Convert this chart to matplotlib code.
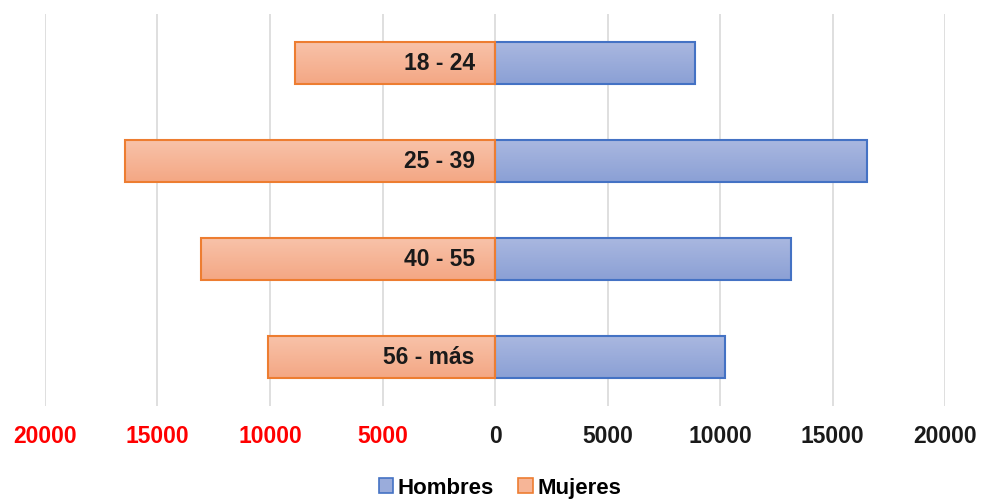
import numpy as np
import matplotlib
matplotlib.use("Agg")
import matplotlib.pyplot as plt
from matplotlib.patches import Patch
from matplotlib.colors import LinearSegmentedColormap
from matplotlib.ticker import FuncFormatter

plt.rcParams['font.family'] = ['Liberation Sans', 'DejaVu Sans']

# Data
grupos = ['18 - 24', '25 - 39', '40 - 55', '56 - más']
hombres = [8900, 16550, 13150, 10200]
mujeres = [8900, 16450, 13050, 10100]
ticks = [-20000, -15000, -10000, -5000, 0, 5000, 10000, 15000, 20000]

# Styles
azul_top, azul_bot, azul_edge = '#AAB8E0', '#8BA0D5', '#4472C4'
nar_top, nar_bot, nar_edge = '#F8C3AA', '#F4A784', '#ED7D31'
alto = 0.43

fig = plt.figure(figsize=(9.83, 5.02), dpi=100)
ax = fig.add_axes([45 / 983, 1 - 407 / 502, 900 / 983, 392 / 502])

y = np.arange(len(grupos))


def barras_gradiente(ax, x0, ancho, y, top, bot, edge):
    cmap = LinearSegmentedColormap.from_list('g', [top, bot])
    grad = np.linspace(0, 1, 64).reshape(-1, 1)
    bars = ax.barh(y, ancho, left=x0, height=alto, facecolor='none',
                   edgecolor=edge, linewidth=1.5, zorder=3)
    for b in bars:
        x, yy = b.get_x(), b.get_y()
        w, h = b.get_width(), b.get_height()
        im = ax.imshow(grad, cmap=cmap, aspect='auto', zorder=2,
                       extent=[x, x + w, yy + h, yy], interpolation='bilinear')
        im.set_clip_path(b)
    return bars


barras_gradiente(ax, 0, hombres, y, azul_top, azul_bot, azul_edge)
barras_gradiente(ax, [-m for m in mujeres], mujeres, y, nar_top, nar_bot, nar_edge)

for yi, g in zip(y, grupos):
    ax.text(-900, yi, g, ha='right', va='center', fontsize=16.5,
            fontweight='bold', color='#1a1a1a', zorder=4)

ax.set_xlim(-20000, 20000)
ax.set_ylim(len(grupos) - 0.5, -0.5)
ax.set_yticks([])
ax.set_xticks(ticks)
ax.xaxis.set_major_formatter(FuncFormatter(lambda v, p: f'{abs(int(v))}'))
ax.tick_params(axis='x', length=0, pad=13, labelsize=16.5)
for lab, t in zip(ax.get_xticklabels(), ticks):
    lab.set_fontweight('bold')
    lab.set_color('#FF0000' if t < 0 else '#1a1a1a')

ax.grid(axis='x', color='#D9D9D9', linewidth=1.2, zorder=0)
ax.set_axisbelow(True)
for s in ax.spines.values():
    s.set_visible(False)

handles = [Patch(facecolor='#9AACDB', edgecolor=azul_edge, linewidth=1.2, label='Hombres'),
           Patch(facecolor='#F6B597', edgecolor=nar_edge, linewidth=1.2, label='Mujeres')]
fig.legend(handles=handles, loc='center', bbox_to_anchor=(500 / 983, 1 - 489 / 502),
           ncol=2, frameon=False, handlelength=0.65, handleheight=0.65,
           handletextpad=0.2, columnspacing=1.1,
           prop={'size': 16, 'weight': 'bold'})

fig.savefig('out.png', dpi=100)
